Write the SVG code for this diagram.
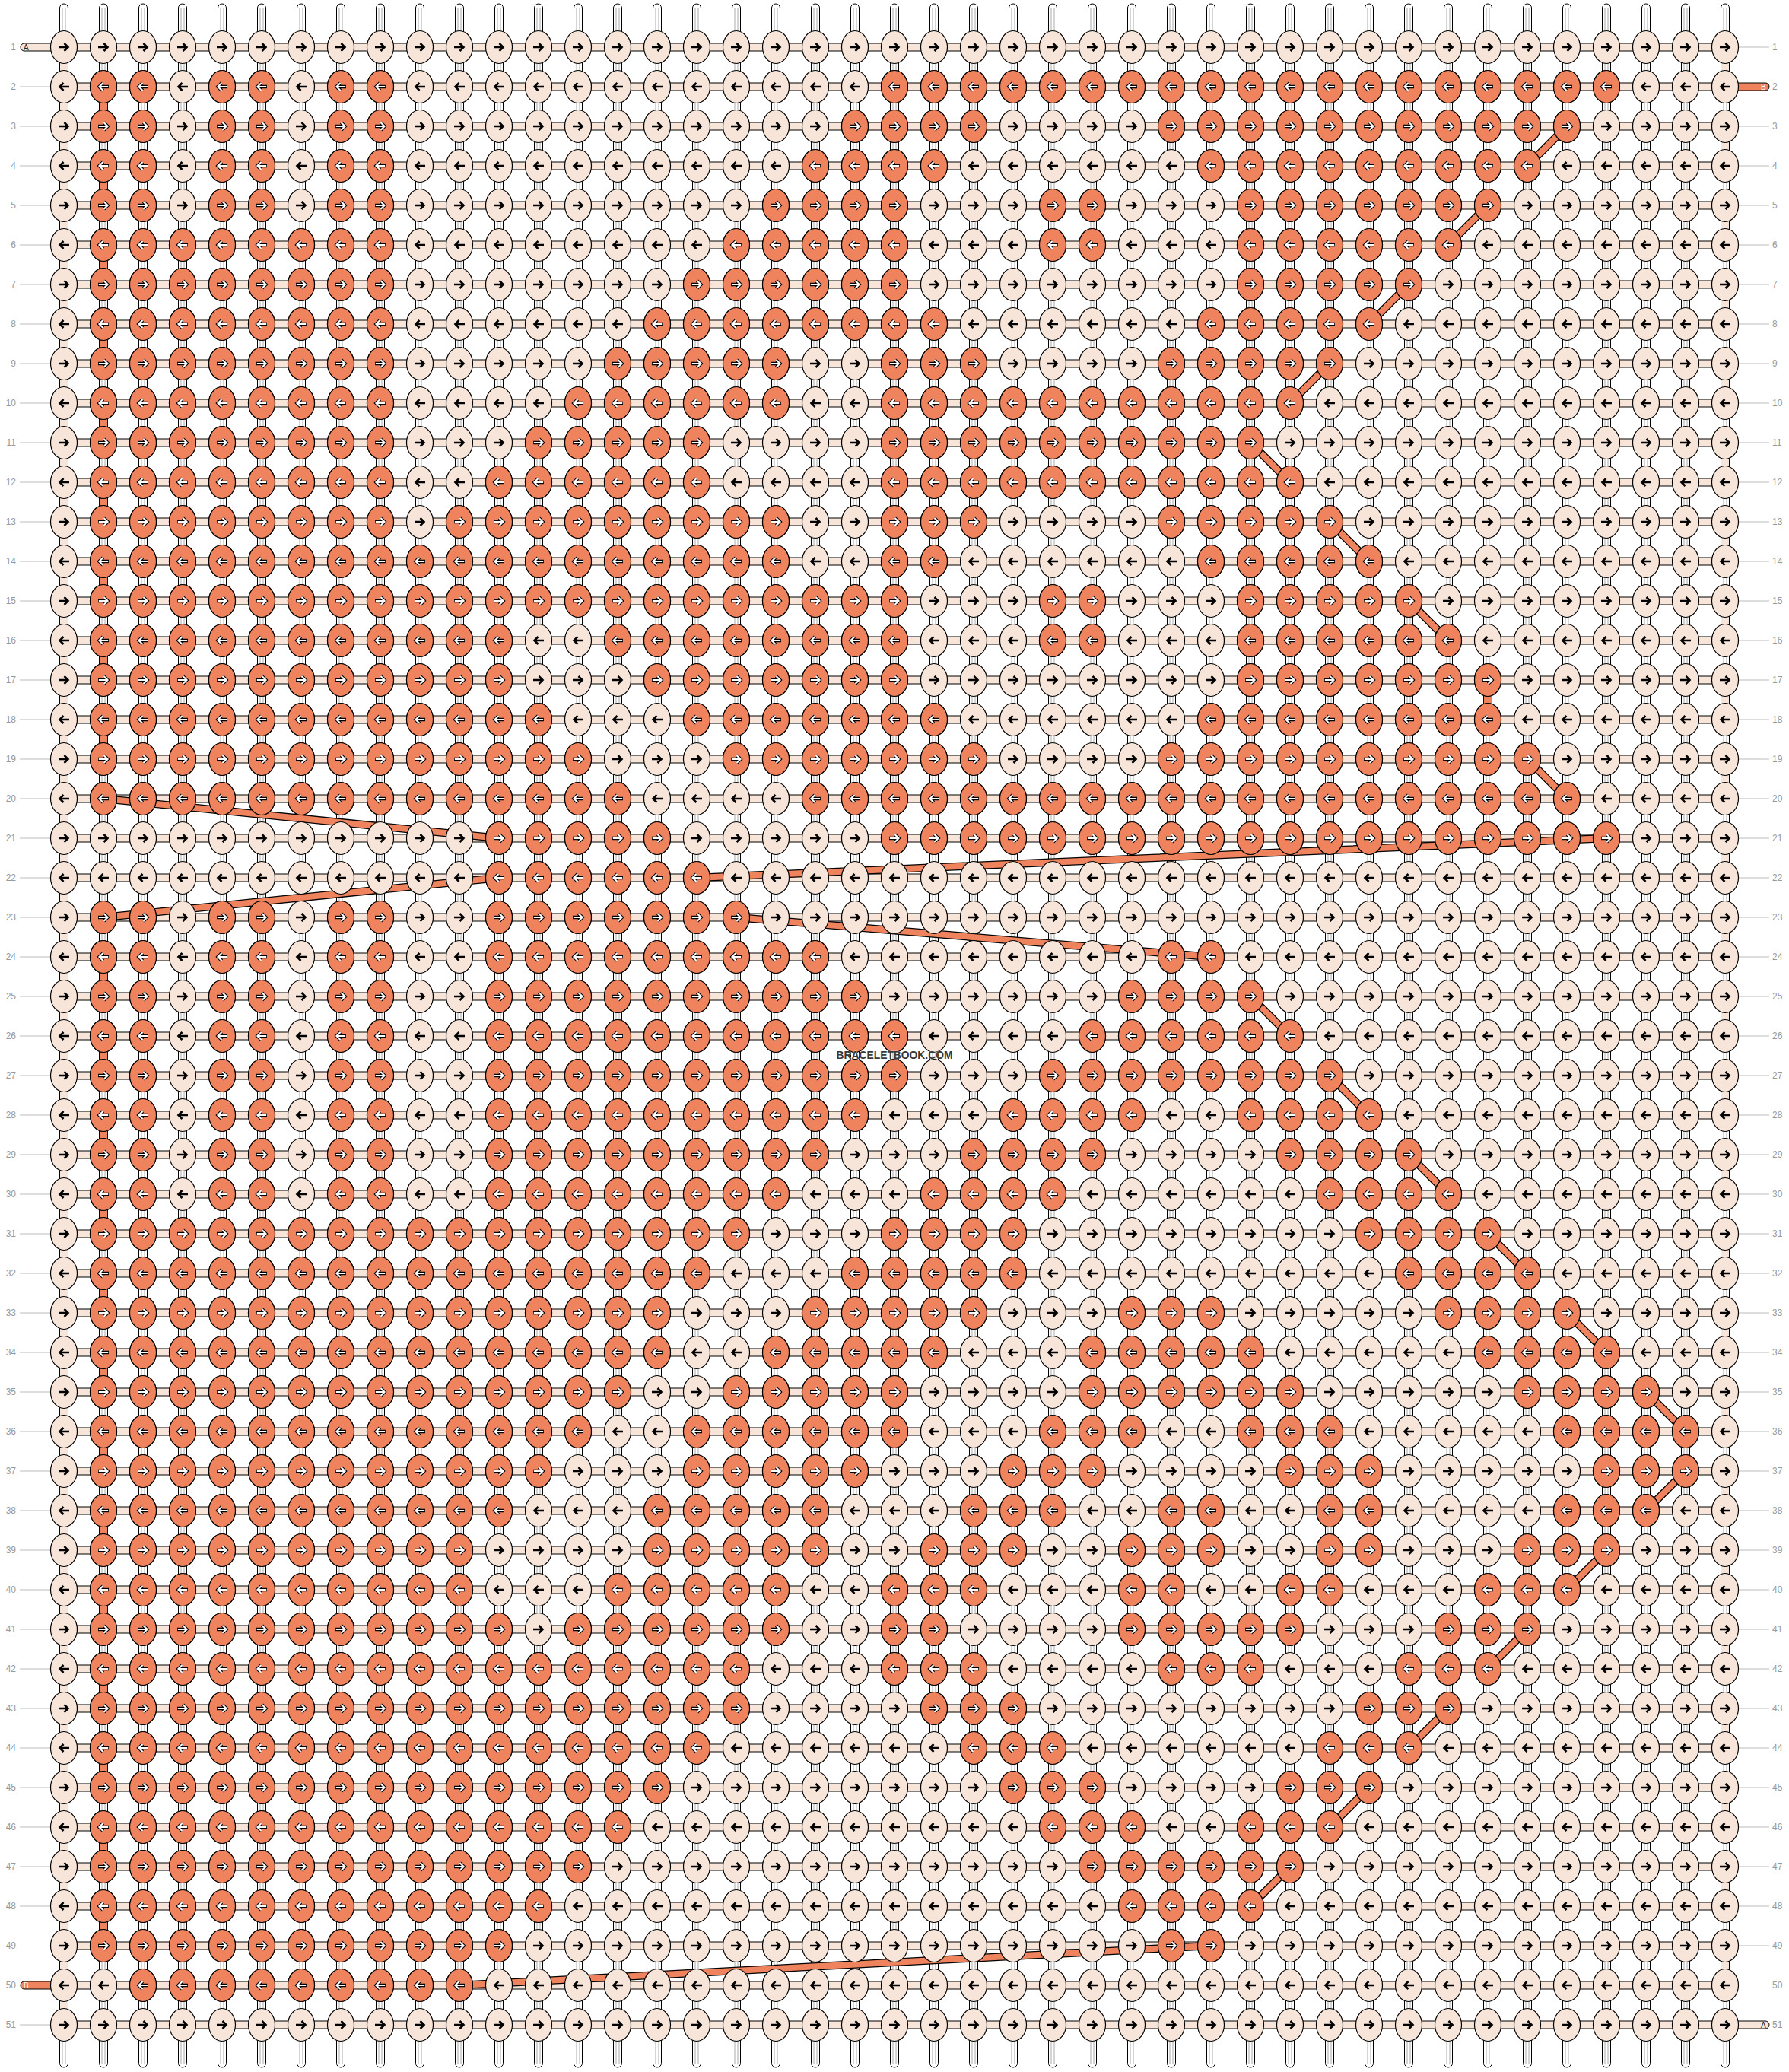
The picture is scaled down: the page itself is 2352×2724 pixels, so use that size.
<svg xmlns="http://www.w3.org/2000/svg" width="2352" height="2724" viewBox="0 0 2352 2724">
<style>
.lab{font-family:"Liberation Sans",Arial,sans-serif;font-size:12px;fill:#999}
.ll{stroke:#bbb;stroke-width:1;fill:none}
.lt{fill:#F8E5D9;stroke:#000;stroke-width:1}
.or{fill:#EE835D;stroke:#000;stroke-width:1}
.cl{fill:none;stroke:#000;stroke-width:10.5}
.co{fill:none;stroke:#EE835D;stroke-width:8}
.stub{font-family:"Liberation Sans",Arial,sans-serif;font-size:10px}
</style>
<defs>
<g id="t"><rect x="-5.5" y="5" width="11" height="2713" rx="5.5" fill="#fff" stroke="#000"/><path d="M-2,10V2713M2,10V2713" stroke="#aaa" stroke-width="1"/></g>
<pattern id="pl" x="58" y="36" width="52" height="104" patternUnits="userSpaceOnUse">
<ellipse cx="26" cy="26" rx="17.5" ry="21.5" fill="#F8E5D9" stroke="#000" stroke-width="1.2"/>
<ellipse cx="26" cy="78" rx="17.5" ry="21.5" fill="#F8E5D9" stroke="#000" stroke-width="1.2"/>
<path d="M19,26H31.5M26.5,21L31.5,26L26.5,31M33,78H20.5M25.5,73L20.5,78L25.5,83" fill="none" stroke="#000" stroke-width="2.6"/>
</pattern>
<pattern id="po" x="58" y="36" width="52" height="104" patternUnits="userSpaceOnUse">
<ellipse cx="26" cy="26" rx="17.5" ry="21.5" fill="#EE835D" stroke="#000" stroke-width="1.2"/>
<ellipse cx="26" cy="78" rx="17.5" ry="21.5" fill="#EE835D" stroke="#000" stroke-width="1.2"/>
<path d="M19,26H31.5M26.5,21L31.5,26L26.5,31M33,78H20.5M25.5,73L20.5,78L25.5,83" fill="none" stroke="#000" stroke-width="4.4"/>
<path d="M19.8,26H31.5M26.5,21L31.5,26L26.5,31M32.2,78H20.5M25.5,73L20.5,78L25.5,83" fill="none" stroke="#fff" stroke-width="2.2"/>
</pattern>
<path id="cp" d="M2060,166L2008,218M1956,270L1904,322M1852,374L1800,426M1748,478L1696,530M1644,582L1696,634M1748,686L1800,738M1852,790L1904,842M2008,998L2060,1050M136,1050L656,1102M2112,1102L916,1154M656,1154L136,1206M968,1206L1592,1258M1644,1310L1696,1362M1748,1414L1800,1466M1852,1518L1904,1570M1956,1622L2008,1674M2060,1726L2112,1778M2164,1830L2216,1882M2216,1934L2164,1986M2112,2038L2060,2090M2008,2142L1956,2194M1904,2246L1852,2298M1800,2350L1748,2402M1696,2454L1644,2506M1592,2558L604,2610"/>
</defs>
<rect width="2352" height="2724" fill="#fff"/>
<g id="strings">
<use href="#t" x="84"/><use href="#t" x="136"/><use href="#t" x="188"/><use href="#t" x="240"/><use href="#t" x="292"/><use href="#t" x="344"/><use href="#t" x="396"/><use href="#t" x="448"/><use href="#t" x="500"/><use href="#t" x="552"/><use href="#t" x="604"/><use href="#t" x="656"/><use href="#t" x="708"/><use href="#t" x="760"/><use href="#t" x="812"/><use href="#t" x="864"/><use href="#t" x="916"/><use href="#t" x="968"/><use href="#t" x="1020"/><use href="#t" x="1072"/><use href="#t" x="1124"/><use href="#t" x="1176"/><use href="#t" x="1228"/><use href="#t" x="1280"/><use href="#t" x="1332"/><use href="#t" x="1384"/><use href="#t" x="1436"/><use href="#t" x="1488"/><use href="#t" x="1540"/><use href="#t" x="1592"/><use href="#t" x="1644"/><use href="#t" x="1696"/><use href="#t" x="1748"/><use href="#t" x="1800"/><use href="#t" x="1852"/><use href="#t" x="1904"/><use href="#t" x="1956"/><use href="#t" x="2008"/><use href="#t" x="2060"/><use href="#t" x="2112"/><use href="#t" x="2164"/><use href="#t" x="2216"/><use href="#t" x="2268"/>
</g>
<g id="rows" class="lt">
<rect x="27" y="57" width="50" height="10" rx="5"/>
<rect x="2275" y="2657" width="51" height="10" rx="5"/>
<rect x="84" y="57" width="2184" height="10"/><rect x="84" y="109" width="2184" height="10"/><rect x="84" y="161" width="2184" height="10"/><rect x="84" y="213" width="2184" height="10"/><rect x="84" y="265" width="2184" height="10"/><rect x="84" y="317" width="2184" height="10"/><rect x="84" y="369" width="2184" height="10"/><rect x="84" y="421" width="2184" height="10"/><rect x="84" y="473" width="2184" height="10"/><rect x="84" y="525" width="2184" height="10"/><rect x="84" y="577" width="2184" height="10"/><rect x="84" y="629" width="2184" height="10"/><rect x="84" y="681" width="2184" height="10"/><rect x="84" y="733" width="2184" height="10"/><rect x="84" y="785" width="2184" height="10"/><rect x="84" y="837" width="2184" height="10"/><rect x="84" y="889" width="2184" height="10"/><rect x="84" y="941" width="2184" height="10"/><rect x="84" y="993" width="2184" height="10"/><rect x="84" y="1045" width="2184" height="10"/><rect x="84" y="1097" width="2184" height="10"/><rect x="84" y="1149" width="2184" height="10"/><rect x="84" y="1201" width="2184" height="10"/><rect x="84" y="1253" width="2184" height="10"/><rect x="84" y="1305" width="2184" height="10"/><rect x="84" y="1357" width="2184" height="10"/><rect x="84" y="1409" width="2184" height="10"/><rect x="84" y="1461" width="2184" height="10"/><rect x="84" y="1513" width="2184" height="10"/><rect x="84" y="1565" width="2184" height="10"/><rect x="84" y="1617" width="2184" height="10"/><rect x="84" y="1669" width="2184" height="10"/><rect x="84" y="1721" width="2184" height="10"/><rect x="84" y="1773" width="2184" height="10"/><rect x="84" y="1825" width="2184" height="10"/><rect x="84" y="1877" width="2184" height="10"/><rect x="84" y="1929" width="2184" height="10"/><rect x="84" y="1981" width="2184" height="10"/><rect x="84" y="2033" width="2184" height="10"/><rect x="84" y="2085" width="2184" height="10"/><rect x="84" y="2137" width="2184" height="10"/><rect x="84" y="2189" width="2184" height="10"/><rect x="84" y="2241" width="2184" height="10"/><rect x="84" y="2293" width="2184" height="10"/><rect x="84" y="2345" width="2184" height="10"/><rect x="84" y="2397" width="2184" height="10"/><rect x="84" y="2449" width="2184" height="10"/><rect x="84" y="2501" width="2184" height="10"/><rect x="84" y="2553" width="2184" height="10"/><rect x="84" y="2605" width="2184" height="10"/><rect x="84" y="2657" width="2184" height="10"/>
</g>
<g id="thread-b-ends" class="or">
<rect x="2275" y="109" width="51" height="10" rx="5"/>
<rect x="27" y="2605" width="50" height="10" rx="5"/>
</g>
<g id="turns">
<rect class="lt" x="78.5" y="62" width="11" height="2600"/>
<g class="lt"><rect x="2262.5" y="80" width="11" height="16"/><rect x="2262.5" y="184" width="11" height="16"/><rect x="2262.5" y="288" width="11" height="16"/><rect x="2262.5" y="392" width="11" height="16"/><rect x="2262.5" y="496" width="11" height="16"/><rect x="2262.5" y="600" width="11" height="16"/><rect x="2262.5" y="704" width="11" height="16"/><rect x="2262.5" y="808" width="11" height="16"/><rect x="2262.5" y="912" width="11" height="16"/><rect x="2262.5" y="1016" width="11" height="16"/><rect x="2262.5" y="1120" width="11" height="16"/><rect x="2262.5" y="1224" width="11" height="16"/><rect x="2262.5" y="1328" width="11" height="16"/><rect x="2262.5" y="1432" width="11" height="16"/><rect x="2262.5" y="1536" width="11" height="16"/><rect x="2262.5" y="1640" width="11" height="16"/><rect x="2262.5" y="1744" width="11" height="16"/><rect x="2262.5" y="1848" width="11" height="16"/><rect x="2262.5" y="1952" width="11" height="16"/><rect x="2262.5" y="2056" width="11" height="16"/><rect x="2262.5" y="2160" width="11" height="16"/><rect x="2262.5" y="2264" width="11" height="16"/><rect x="2262.5" y="2368" width="11" height="16"/><rect x="2262.5" y="2472" width="11" height="16"/><rect x="2262.5" y="2576" width="11" height="16"/></g>
<g class="or"><rect x="130.5" y="132" width="11" height="16"/><rect x="130.5" y="236" width="11" height="16"/><rect x="130.5" y="340" width="11" height="16"/><rect x="130.5" y="444" width="11" height="16"/><rect x="130.5" y="548" width="11" height="16"/><rect x="130.5" y="652" width="11" height="16"/><rect x="130.5" y="756" width="11" height="16"/><rect x="130.5" y="860" width="11" height="16"/><rect x="130.5" y="964" width="11" height="16"/><rect x="130.5" y="1276" width="11" height="16"/><rect x="130.5" y="1380" width="11" height="16"/><rect x="130.5" y="1484" width="11" height="16"/><rect x="130.5" y="1588" width="11" height="16"/><rect x="130.5" y="1692" width="11" height="16"/><rect x="130.5" y="1796" width="11" height="16"/><rect x="130.5" y="1900" width="11" height="16"/><rect x="130.5" y="2004" width="11" height="16"/><rect x="130.5" y="2108" width="11" height="16"/><rect x="130.5" y="2212" width="11" height="16"/><rect x="130.5" y="2316" width="11" height="16"/><rect x="130.5" y="2420" width="11" height="16"/><rect x="130.5" y="2524" width="11" height="16"/><rect x="1950.5" y="912" width="11" height="16"/></g>
</g>
<g id="connectors">
<use href="#cp" class="cl"/>
<use href="#cp" class="co"/>
</g>
<g id="knots">
<rect x="58" y="36" width="2236" height="2652" fill="url(#pl)"/>
<g fill="url(#po)">
<rect x="110" y="88" width="104" height="52"/><rect x="266" y="88" width="104" height="52"/><rect x="422" y="88" width="104" height="52"/><rect x="1150" y="88" width="988" height="52"/>
<rect x="110" y="140" width="104" height="52"/><rect x="266" y="140" width="104" height="52"/><rect x="422" y="140" width="104" height="52"/><rect x="1098" y="140" width="208" height="52"/><rect x="1514" y="140" width="572" height="52"/>
<rect x="110" y="192" width="104" height="52"/><rect x="266" y="192" width="104" height="52"/><rect x="422" y="192" width="104" height="52"/><rect x="1046" y="192" width="208" height="52"/><rect x="1566" y="192" width="468" height="52"/>
<rect x="110" y="244" width="104" height="52"/><rect x="266" y="244" width="104" height="52"/><rect x="422" y="244" width="104" height="52"/><rect x="994" y="244" width="208" height="52"/><rect x="1358" y="244" width="104" height="52"/><rect x="1618" y="244" width="364" height="52"/>
<rect x="110" y="296" width="416" height="52"/><rect x="942" y="296" width="260" height="52"/><rect x="1358" y="296" width="104" height="52"/><rect x="1618" y="296" width="312" height="52"/>
<rect x="110" y="348" width="416" height="52"/><rect x="890" y="348" width="312" height="52"/><rect x="1618" y="348" width="260" height="52"/>
<rect x="110" y="400" width="416" height="52"/><rect x="838" y="400" width="416" height="52"/><rect x="1566" y="400" width="260" height="52"/>
<rect x="110" y="452" width="416" height="52"/><rect x="786" y="452" width="260" height="52"/><rect x="1150" y="452" width="156" height="52"/><rect x="1514" y="452" width="260" height="52"/>
<rect x="110" y="504" width="416" height="52"/><rect x="734" y="504" width="312" height="52"/><rect x="1150" y="504" width="572" height="52"/>
<rect x="110" y="556" width="416" height="52"/><rect x="682" y="556" width="260" height="52"/><rect x="1150" y="556" width="520" height="52"/>
<rect x="110" y="608" width="416" height="52"/><rect x="630" y="608" width="312" height="52"/><rect x="1150" y="608" width="572" height="52"/>
<rect x="110" y="660" width="416" height="52"/><rect x="578" y="660" width="468" height="52"/><rect x="1150" y="660" width="156" height="52"/><rect x="1514" y="660" width="260" height="52"/>
<rect x="110" y="712" width="936" height="52"/><rect x="1150" y="712" width="104" height="52"/><rect x="1566" y="712" width="260" height="52"/>
<rect x="110" y="764" width="1092" height="52"/><rect x="1358" y="764" width="104" height="52"/><rect x="1618" y="764" width="260" height="52"/>
<rect x="110" y="816" width="572" height="52"/><rect x="786" y="816" width="416" height="52"/><rect x="1358" y="816" width="104" height="52"/><rect x="1618" y="816" width="312" height="52"/>
<rect x="110" y="868" width="572" height="52"/><rect x="838" y="868" width="364" height="52"/><rect x="1618" y="868" width="364" height="52"/>
<rect x="110" y="920" width="624" height="52"/><rect x="890" y="920" width="364" height="52"/><rect x="1566" y="920" width="416" height="52"/>
<rect x="110" y="972" width="676" height="52"/><rect x="942" y="972" width="364" height="52"/><rect x="1514" y="972" width="520" height="52"/>
<rect x="110" y="1024" width="728" height="52"/><rect x="1046" y="1024" width="1040" height="52"/>
<rect x="630" y="1076" width="260" height="52"/><rect x="1150" y="1076" width="988" height="52"/>
<rect x="630" y="1128" width="312" height="52"/>
<rect x="110" y="1180" width="104" height="52"/><rect x="266" y="1180" width="104" height="52"/><rect x="422" y="1180" width="104" height="52"/><rect x="630" y="1180" width="364" height="52"/>
<rect x="110" y="1232" width="104" height="52"/><rect x="266" y="1232" width="104" height="52"/><rect x="422" y="1232" width="104" height="52"/><rect x="630" y="1232" width="468" height="52"/><rect x="1514" y="1232" width="104" height="52"/>
<rect x="110" y="1284" width="104" height="52"/><rect x="266" y="1284" width="104" height="52"/><rect x="422" y="1284" width="104" height="52"/><rect x="630" y="1284" width="520" height="52"/><rect x="1462" y="1284" width="208" height="52"/>
<rect x="110" y="1336" width="104" height="52"/><rect x="266" y="1336" width="104" height="52"/><rect x="422" y="1336" width="104" height="52"/><rect x="630" y="1336" width="572" height="52"/><rect x="1410" y="1336" width="312" height="52"/>
<rect x="110" y="1388" width="104" height="52"/><rect x="266" y="1388" width="104" height="52"/><rect x="422" y="1388" width="104" height="52"/><rect x="630" y="1388" width="572" height="52"/><rect x="1358" y="1388" width="416" height="52"/>
<rect x="110" y="1440" width="104" height="52"/><rect x="266" y="1440" width="104" height="52"/><rect x="422" y="1440" width="104" height="52"/><rect x="630" y="1440" width="520" height="52"/><rect x="1306" y="1440" width="208" height="52"/><rect x="1618" y="1440" width="208" height="52"/>
<rect x="110" y="1492" width="104" height="52"/><rect x="266" y="1492" width="104" height="52"/><rect x="422" y="1492" width="104" height="52"/><rect x="630" y="1492" width="468" height="52"/><rect x="1254" y="1492" width="208" height="52"/><rect x="1670" y="1492" width="208" height="52"/>
<rect x="110" y="1544" width="104" height="52"/><rect x="266" y="1544" width="104" height="52"/><rect x="422" y="1544" width="104" height="52"/><rect x="630" y="1544" width="416" height="52"/><rect x="1202" y="1544" width="208" height="52"/><rect x="1722" y="1544" width="208" height="52"/>
<rect x="110" y="1596" width="884" height="52"/><rect x="1150" y="1596" width="208" height="52"/><rect x="1774" y="1596" width="208" height="52"/>
<rect x="110" y="1648" width="832" height="52"/><rect x="1098" y="1648" width="260" height="52"/><rect x="1826" y="1648" width="208" height="52"/>
<rect x="110" y="1700" width="780" height="52"/><rect x="1046" y="1700" width="260" height="52"/><rect x="1462" y="1700" width="156" height="52"/><rect x="1878" y="1700" width="208" height="52"/>
<rect x="110" y="1752" width="780" height="52"/><rect x="994" y="1752" width="260" height="52"/><rect x="1410" y="1752" width="260" height="52"/><rect x="1930" y="1752" width="208" height="52"/>
<rect x="110" y="1804" width="728" height="52"/><rect x="942" y="1804" width="260" height="52"/><rect x="1410" y="1804" width="312" height="52"/><rect x="1982" y="1804" width="208" height="52"/>
<rect x="110" y="1856" width="676" height="52"/><rect x="890" y="1856" width="312" height="52"/><rect x="1358" y="1856" width="156" height="52"/><rect x="1618" y="1856" width="156" height="52"/><rect x="2034" y="1856" width="208" height="52"/>
<rect x="110" y="1908" width="624" height="52"/><rect x="890" y="1908" width="260" height="52"/><rect x="1306" y="1908" width="156" height="52"/><rect x="1670" y="1908" width="156" height="52"/><rect x="2086" y="1908" width="156" height="52"/>
<rect x="110" y="1960" width="572" height="52"/><rect x="838" y="1960" width="260" height="52"/><rect x="1254" y="1960" width="156" height="52"/><rect x="1514" y="1960" width="104" height="52"/><rect x="1722" y="1960" width="104" height="52"/><rect x="2034" y="1960" width="156" height="52"/>
<rect x="110" y="2012" width="520" height="52"/><rect x="838" y="2012" width="260" height="52"/><rect x="1202" y="2012" width="156" height="52"/><rect x="1462" y="2012" width="156" height="52"/><rect x="1722" y="2012" width="104" height="52"/><rect x="1982" y="2012" width="156" height="52"/>
<rect x="110" y="2064" width="520" height="52"/><rect x="786" y="2064" width="260" height="52"/><rect x="1150" y="2064" width="156" height="52"/><rect x="1462" y="2064" width="104" height="52"/><rect x="1670" y="2064" width="104" height="52"/><rect x="1930" y="2064" width="156" height="52"/>
<rect x="110" y="2116" width="572" height="52"/><rect x="734" y="2116" width="312" height="52"/><rect x="1150" y="2116" width="104" height="52"/><rect x="1462" y="2116" width="260" height="52"/><rect x="1878" y="2116" width="156" height="52"/>
<rect x="110" y="2168" width="884" height="52"/><rect x="1150" y="2168" width="156" height="52"/><rect x="1514" y="2168" width="156" height="52"/><rect x="1826" y="2168" width="156" height="52"/>
<rect x="110" y="2220" width="884" height="52"/><rect x="1202" y="2220" width="156" height="52"/><rect x="1774" y="2220" width="156" height="52"/>
<rect x="110" y="2272" width="832" height="52"/><rect x="1254" y="2272" width="156" height="52"/><rect x="1722" y="2272" width="156" height="52"/>
<rect x="110" y="2324" width="780" height="52"/><rect x="1306" y="2324" width="156" height="52"/><rect x="1670" y="2324" width="156" height="52"/>
<rect x="110" y="2376" width="728" height="52"/><rect x="1358" y="2376" width="156" height="52"/><rect x="1618" y="2376" width="156" height="52"/>
<rect x="110" y="2428" width="676" height="52"/><rect x="1410" y="2428" width="312" height="52"/>
<rect x="110" y="2480" width="624" height="52"/><rect x="1462" y="2480" width="208" height="52"/>
<rect x="110" y="2532" width="572" height="52"/><rect x="1514" y="2532" width="104" height="52"/>
<rect x="162" y="2584" width="468" height="52"/>
</g>
</g>
<g id="labels">
<path class="ll" d="M26,114h40m-40,52h40m-40,52h40m-40,52h40m-40,52h40m-40,52h40m-40,52h40m-40,52h40m-40,52h40m-40,52h40m-40,52h40m-40,52h40m-40,52h40m-40,52h40m-40,52h40m-40,52h40m-40,52h40m-40,52h40m-40,52h40m-40,52h40m-40,52h40m-40,52h40m-40,52h40m-40,52h40m-40,52h40m-40,52h40m-40,52h40m-40,52h40m-40,52h40m-40,52h40m-40,52h40m-40,52h40m-40,52h40m-40,52h40m-40,52h40m-40,52h40m-40,52h40m-40,52h40m-40,52h40m-40,52h40m-40,52h40m-40,52h40m-40,52h40m-40,52h40m-40,52h40m-40,52h40m-40,52h40M26,2662h40"/>
<path class="ll" d="M2286,62h40M2286,166h40m-40,52h40m-40,52h40m-40,52h40m-40,52h40m-40,52h40m-40,52h40m-40,52h40m-40,52h40m-40,52h40m-40,52h40m-40,52h40m-40,52h40m-40,52h40m-40,52h40m-40,52h40m-40,52h40m-40,52h40m-40,52h40m-40,52h40m-40,52h40m-40,52h40m-40,52h40m-40,52h40m-40,52h40m-40,52h40m-40,52h40m-40,52h40m-40,52h40m-40,52h40m-40,52h40m-40,52h40m-40,52h40m-40,52h40m-40,52h40m-40,52h40m-40,52h40m-40,52h40m-40,52h40m-40,52h40m-40,52h40m-40,52h40m-40,52h40m-40,52h40m-40,52h40m-40,52h40m-40,52h40"/>
<g class="lab" text-anchor="end">
<text x="21" y="66">1</text><text x="21" y="118">2</text><text x="21" y="170">3</text><text x="21" y="222">4</text><text x="21" y="274">5</text><text x="21" y="326">6</text><text x="21" y="378">7</text><text x="21" y="430">8</text><text x="21" y="482">9</text><text x="21" y="534">10</text><text x="21" y="586">11</text><text x="21" y="638">12</text><text x="21" y="690">13</text><text x="21" y="742">14</text><text x="21" y="794">15</text><text x="21" y="846">16</text><text x="21" y="898">17</text><text x="21" y="950">18</text><text x="21" y="1002">19</text><text x="21" y="1054">20</text><text x="21" y="1106">21</text><text x="21" y="1158">22</text><text x="21" y="1210">23</text><text x="21" y="1262">24</text><text x="21" y="1314">25</text><text x="21" y="1366">26</text><text x="21" y="1418">27</text><text x="21" y="1470">28</text><text x="21" y="1522">29</text><text x="21" y="1574">30</text><text x="21" y="1626">31</text><text x="21" y="1678">32</text><text x="21" y="1730">33</text><text x="21" y="1782">34</text><text x="21" y="1834">35</text><text x="21" y="1886">36</text><text x="21" y="1938">37</text><text x="21" y="1990">38</text><text x="21" y="2042">39</text><text x="21" y="2094">40</text><text x="21" y="2146">41</text><text x="21" y="2198">42</text><text x="21" y="2250">43</text><text x="21" y="2302">44</text><text x="21" y="2354">45</text><text x="21" y="2406">46</text><text x="21" y="2458">47</text><text x="21" y="2510">48</text><text x="21" y="2562">49</text><text x="21" y="2614">50</text><text x="21" y="2666">51</text>
</g>
<g class="lab">
<text x="2330" y="66">1</text><text x="2330" y="118">2</text><text x="2330" y="170">3</text><text x="2330" y="222">4</text><text x="2330" y="274">5</text><text x="2330" y="326">6</text><text x="2330" y="378">7</text><text x="2330" y="430">8</text><text x="2330" y="482">9</text><text x="2330" y="534">10</text><text x="2330" y="586">11</text><text x="2330" y="638">12</text><text x="2330" y="690">13</text><text x="2330" y="742">14</text><text x="2330" y="794">15</text><text x="2330" y="846">16</text><text x="2330" y="898">17</text><text x="2330" y="950">18</text><text x="2330" y="1002">19</text><text x="2330" y="1054">20</text><text x="2330" y="1106">21</text><text x="2330" y="1158">22</text><text x="2330" y="1210">23</text><text x="2330" y="1262">24</text><text x="2330" y="1314">25</text><text x="2330" y="1366">26</text><text x="2330" y="1418">27</text><text x="2330" y="1470">28</text><text x="2330" y="1522">29</text><text x="2330" y="1574">30</text><text x="2330" y="1626">31</text><text x="2330" y="1678">32</text><text x="2330" y="1730">33</text><text x="2330" y="1782">34</text><text x="2330" y="1834">35</text><text x="2330" y="1886">36</text><text x="2330" y="1938">37</text><text x="2330" y="1990">38</text><text x="2330" y="2042">39</text><text x="2330" y="2094">40</text><text x="2330" y="2146">41</text><text x="2330" y="2198">42</text><text x="2330" y="2250">43</text><text x="2330" y="2302">44</text><text x="2330" y="2354">45</text><text x="2330" y="2406">46</text><text x="2330" y="2458">47</text><text x="2330" y="2510">48</text><text x="2330" y="2562">49</text><text x="2330" y="2614">50</text><text x="2330" y="2666">51</text>
</g>
<text class="stub" x="31" y="66" fill="#222">A</text>
<text class="stub" x="2315" y="2666" fill="#222">A</text>
<text class="stub" x="2315" y="118" fill="#fff">B</text>
<text class="stub" x="31" y="2614" fill="#fff">B</text>
</g>
<text x="1176" y="1392" text-anchor="middle" font-family="'Liberation Sans',Arial,sans-serif" font-weight="bold" font-size="15" textLength="153" lengthAdjust="spacingAndGlyphs" fill="#383838" stroke="#fff" stroke-width="0.6" paint-order="stroke">BRACELETBOOK.COM</text>
</svg>
